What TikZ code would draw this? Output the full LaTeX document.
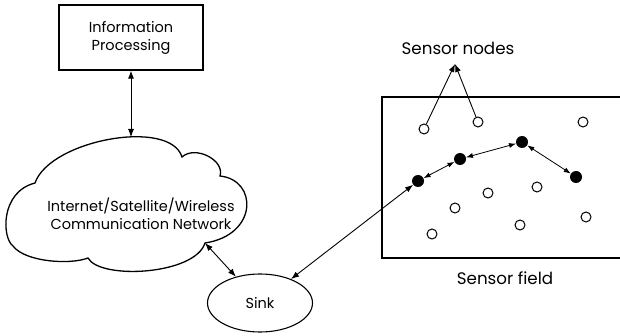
\documentclass[tikz,border=0pt]{standalone}
\usepackage{fontspec}
\setmainfont{Poppins}
\usetikzlibrary{arrows.meta,shapes.geometric}
\begin{document}
\begin{tikzpicture}[x=1pt,y=-1pt,
  lbl/.style={font=\fontsize{14.5}{18}\selectfont, align=center, inner sep=0pt},
  biglbl/.style={font=\fontsize{16.7}{18}\selectfont, inner sep=0pt},
  frame/.style={draw, line width=1.3pt},
  arr/.style={line width=0.9pt, {Latex[length=8pt,width=6pt]}-{Latex[length=8pt,width=6pt]}},
  sarr/.style={line width=0.8pt, {Latex[length=7pt,width=5pt]}-{Latex[length=7pt,width=5pt]}},
  oarr/.style={line width=0.9pt, -{Latex[length=8pt,width=6pt]}},
  opennode/.style={circle, draw, line width=1pt, minimum size=10pt, inner sep=0pt, fill=white},
  blacknode/.style={circle, fill=black, minimum size=12pt, inner sep=0pt}
]
\clip (0,0) rectangle (620,336);
\fill[white] (0,0) rectangle (620,336);

% Information processing box
\node[frame, minimum width=144pt, minimum height=65pt, lbl] (ip) at (131,37.5) {Information\\Processing};

% Cloud
\draw[line width=1.3pt]
  (13,246) .. controls (2,238) and (0,192) .. (35,183)
  .. controls (50,140) and (170,118) .. (182,157)
  .. controls (195,145) and (225,160) .. (220,176)
  .. controls (258,180) and (258,235) .. (205,243)
  .. controls (195,275) and (100,280) .. (88,258)
  .. controls (70,265) and (25,262) .. (13,246) -- cycle;
\node[lbl] (net) at (141,214) {Internet/Satellite/Wireless\\Communication Network};
\coordinate (netTop) at (131,137);
\coordinate (netBR) at (205,243);

% Sink
\node[ellipse, draw, line width=1.1pt, minimum width=105pt, minimum height=58pt, lbl] (sink) at (260,303) {Sink};

% Sensor field
\draw[frame] (382,97) rectangle (630,258);
\node[biglbl] (sf) at (505,278) {Sensor field};
\node[biglbl] (sn) at (458,48) {Sensor nodes};
\coordinate (snTip) at (455,64);

% open nodes
\node[opennode] (o1) at (424,129) {};
\node[opennode] (o2) at (478,122) {};
\node[opennode] (o3) at (583,122) {};
\node[opennode] (o4) at (537,187) {};
\node[opennode] (o5) at (488,193) {};
\node[opennode] (o6) at (455,208) {};
\node[opennode] (o7) at (586,217) {};
\node[opennode] (o8) at (520,225) {};
\node[opennode] (o9) at (432,234) {};

% black nodes
\node[blacknode] (b1) at (418,181) {};
\node[blacknode] (b2) at (460,159) {};
\node[blacknode] (b3) at (522,142) {};
\node[blacknode] (b4) at (576,177) {};

% connectors
\draw[arr] (ip.south) -- (netTop);
\draw[arr] (netBR) -- (sink);
\draw[arr] (sink) -- (b1);
\draw[sarr] (b1) -- (b2);
\draw[sarr] (b2) -- (b3);
\draw[sarr] (b3) -- (b4);
\draw[oarr] (o1) -- (snTip);
\draw[oarr] (o2) -- (snTip);
\end{tikzpicture}
\end{document}
